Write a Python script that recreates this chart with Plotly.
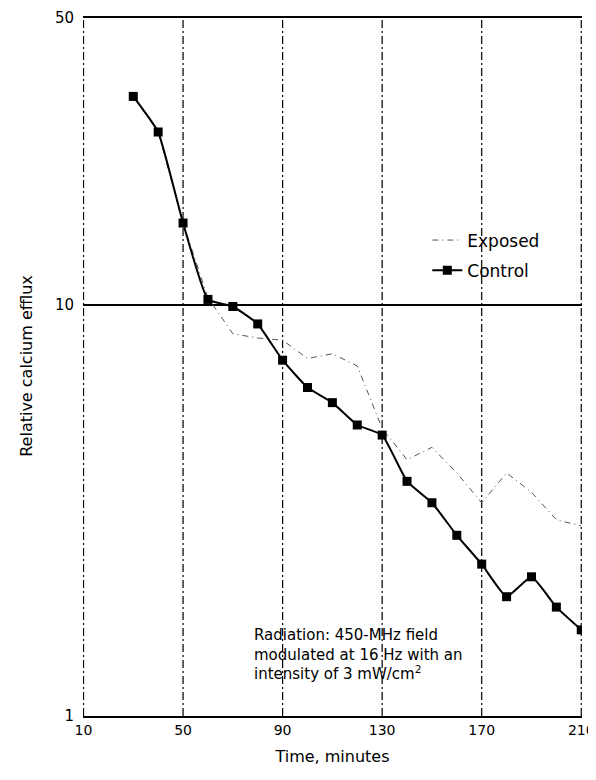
import plotly.graph_objects as go

# Data
time_min = [30, 40, 50, 60, 70, 80, 90, 100, 110, 120, 130, 140, 150, 160, 170, 180, 190, 200, 210]
control = [32.1, 26.3, 15.8, 10.3, 9.9, 8.98, 7.33, 6.29, 5.78, 5.10, 4.82, 3.72, 3.30, 2.75, 2.34, 1.95, 2.18, 1.84, 1.62]
exposed = [32.1, 26.3, 15.8, 10.4, 8.5, 8.3, 8.2, 7.4, 7.6, 7.1, 5.0, 4.2, 4.5, 3.9, 3.3, 3.9, 3.5, 3.0, 2.9]

x_ticks = [10, 50, 90, 130, 170, 210]
y_ticks = [1, 10, 50]
note_text = ("Radiation: 450-MHz field<br>modulated at 16 Hz with an<br>"
             "intensity of 3 mW/cm<sup>2</sup>")

FONT = "DejaVu Sans, Arial, sans-serif"

fig = go.Figure()
fig.add_trace(go.Scatter(
    x=time_min, y=exposed, name="Exposed", mode="lines",
    line=dict(color="#555555", width=1, dash="6px,4px,1px,4px"),
    legendgroup="a",
))
fig.add_trace(go.Scatter(
    x=time_min, y=control, name="Control", mode="lines+markers",
    line=dict(color="black", width=2, shape="spline", smoothing=0.4),
    marker=dict(symbol="square", size=9, color="black"),
    legendgroup="b",
))

# vertical dash-dot grid lines at each x tick (including plot edges)
for v in x_ticks:
    fig.add_vline(x=v, line=dict(color="black", width=1.2, dash="8px,3px,2px,3px"), layer="below")

# the page body has an 8px default margin, so the figure is sized to fit the window
fig.update_layout(
    width=588, height=772,
    margin=dict(l=75, r=14, t=8, b=64),
    paper_bgcolor="white", plot_bgcolor="white",
    font=dict(family=FONT, size=15, color="black"),
    showlegend=True,
    legend=dict(x=0.69, y=0.705, xanchor="left", yanchor="top",
                bgcolor="rgba(0,0,0,0)", font=dict(size=17),
                tracegroupgap=5, traceorder="grouped"),
    xaxis=dict(
        range=[9.8, 210.3], tickvals=x_ticks, ticktext=[str(v) for v in x_ticks],
        showgrid=False, automargin=False, ticklabeloverflow="allow",
        showline=True, linecolor="black", linewidth=2, ticks="",
        zeroline=False, tickfont=dict(size=14),
        title=dict(text="Time, minutes", font=dict(size=16), standoff=14),
    ),
    yaxis=dict(
        type="log", range=[0, 1.702], tickvals=y_ticks, ticktext=[str(v) for v in y_ticks],
        showgrid=True, gridcolor="black", gridwidth=1.5,
        showline=False, ticks="", zeroline=False, automargin=False,
        ticklabeloverflow="allow",
        ticklabelstandoff=8, tickfont=dict(size=15),
        title=dict(text="Relative calcium efflux", font=dict(size=16), standoff=18),
    ),
)

fig.add_annotation(
    xref="paper", yref="paper", x=0.338, y=0.132, xanchor="left", yanchor="top",
    align="left", showarrow=False, text=note_text, font=dict(size=15),
)

fig.write_html("out.html")
